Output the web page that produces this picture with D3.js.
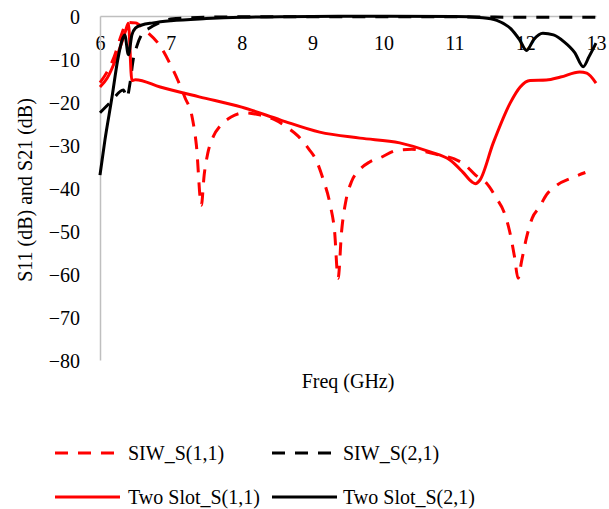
<!DOCTYPE html>
<html>
<head>
<meta charset="utf-8">
<script src="https://cdn.jsdelivr.net/npm/d3@7"></script>
<style>
  body { margin: 0; background: #fff; }
  svg { display: block; }
  svg text { font-family: "Times New Roman", "Liberation Serif", Tinos, "DejaVu Serif", serif; }
</style>
</head>
<body>
<div id="chart"></div>
<script>
// ---- Data ----
const xTicks = [6, 7, 8, 9, 10, 11, 12, 13];
const yTicks = [0, -10, -20, -30, -40, -50, -60, -70, -80];

const siwS11Freq = [6.0, 6.1, 6.2, 6.3, 6.38, 6.5, 6.65, 6.85, 7.0, 7.1, 7.2, 7.3, 7.36, 7.43, 7.47, 7.52, 7.6, 7.7, 7.85, 8.05, 8.25, 8.45, 8.65, 8.8, 8.95, 9.05, 9.15, 9.25, 9.31, 9.36, 9.41, 9.47, 9.55, 9.65, 9.8, 9.95, 10.2, 10.4, 10.6, 10.8, 11.0, 11.15, 11.3, 11.45, 11.6, 11.7, 11.78, 11.85, 11.9, 11.95, 12.02, 12.1, 12.2, 12.3, 12.45, 12.65, 12.85];
const siwS11Db = [-15.5, -13, -9.5, -4.5, -1.5, -1.6, -3.5, -7, -11.5, -15, -19, -23.5, -30, -44, -37, -32, -28, -25.5, -23.5, -22.5, -23, -24, -26, -28, -31, -33.5, -38, -44, -50, -61, -50, -43, -38.5, -36, -34, -33, -31.2, -31, -31.6, -32.4, -33.2, -34.6, -37, -38.8, -42.5, -45.5, -50, -56, -61, -57, -51.5, -47, -44.5, -41.6, -39.3, -37.7, -36.4];

const siwS21Freq = [6.0, 6.15, 6.33, 6.38, 6.42, 6.47, 6.52, 6.6, 6.7, 6.85, 7.0, 7.5, 8, 9, 10, 11, 12, 13];
const siwS21Db = [-22.5, -20, -17.2, -19, -16, -10, -7, -4, -2.8, -1.5, -0.7, -0.3, -0.2, -0.2, -0.2, -0.2, -0.3, -0.3];

const slotS11Freq = [6.0, 6.1, 6.2, 6.3, 6.36, 6.40, 6.45, 6.5, 6.85, 7.4, 8.0, 8.55, 9.1, 9.67, 10.23, 10.66, 10.94, 11.12, 11.25, 11.3, 11.36, 11.55, 11.79, 11.93, 12.07, 12.3, 12.5, 12.77, 12.87, 13.0];
const slotS11Db = [-16.5, -14.5, -11, -6.5, -3.5, -1.7, -15, -14.8, -16.5, -18.8, -21.2, -24.2, -27, -28.4, -29.5, -31.6, -33.5, -36.3, -38.6, -39, -38.2, -29.5, -20.2, -16.5, -15, -14.9, -14.2, -13, -13.3, -15.6];

const slotS21Freq = [6.0, 6.07, 6.17, 6.25, 6.32, 6.35, 6.4, 6.45, 6.5, 6.59, 6.75, 7.0, 7.5, 8.0, 9.0, 10.0, 11.0, 11.4, 11.6, 11.8, 11.92, 12.02, 12.12, 12.25, 12.4, 12.55, 12.7, 12.82, 12.9, 13.0];
const slotS21Db = [-37, -28.8, -18.8, -10.2, -5.2, -4.4, -9, -4.4, -2.8, -2.1, -1.6, -1.1, -0.6, -0.3, -0.1, -0.05, -0.1, -0.4, -1, -3, -5.5, -8, -5.5, -4, -4.4, -6, -8.5, -11.8, -9.5, -6.3];

const seriesNames = ['SIW_S(1,1)', 'SIW_S(2,1)', 'Two Slot_S(1,1)', 'Two Slot_S(2,1)'];

// ---- Layout ----
const W = 609, H = 509;
const x = d3.scaleLinear().domain([6, 13]).range([100, 596]);
const y = d3.scaleLinear().domain([-80, 0]).range([360, 16]);

const series = [
  { name: seriesNames[0], f: siwS11Freq, v: siwS11Db, color: '#ff0000', dash: '13,10' },
  { name: seriesNames[1], f: siwS21Freq, v: siwS21Db, color: '#000000', dash: '13,10' },
  { name: seriesNames[2], f: slotS11Freq, v: slotS11Db, color: '#ff0000', dash: null },
  { name: seriesNames[3], f: slotS21Freq, v: slotS21Db, color: '#000000', dash: null }
];

const svg = d3.select('#chart').append('svg')
  .attr('width', W)
  .attr('height', H);

// Axes (gray lines, no ticks)
const xAxis = svg.append('g')
  .attr('transform', `translate(0,${y(0)})`)
  .call(d3.axisBottom(x).tickValues(xTicks).tickSize(0).tickPadding(24).tickFormat(d3.format('d')));
const yAxis = svg.append('g')
  .attr('transform', `translate(${x(6)},0)`)
  .call(d3.axisLeft(y).tickValues(yTicks).tickSize(0).tickPadding(20).tickFormat(d3.format('d')));

[xAxis, yAxis].forEach(a => {
  a.attr('font-family', null);
  a.select('.domain').attr('stroke', '#bfbfbf').attr('stroke-width', 1.5);
  a.selectAll('text')
    .attr('font-size', '20px')
    .attr('fill', '#000');
});
xAxis.selectAll('text').attr('dy', '0.5em');
yAxis.selectAll('text').attr('dy', '0.35em');

// Axis titles
svg.append('text')
  .attr('x', 348).attr('y', 388)
  .attr('text-anchor', 'middle')
  .attr('font-size', '20px')
  .text('Freq (GHz)');

svg.append('text')
  .attr('transform', `translate(32,190) rotate(-90)`)
  .attr('text-anchor', 'middle')
  .attr('font-size', '20px')
  .text('S11 (dB) and S21 (dB)');

// Lines
const line = d3.line()
  .x(d => x(d[0]))
  .y(d => y(d[1]))
  .curve(d3.curveMonotoneX);

svg.append('g')
  .selectAll('path')
  .data(series)
  .join('path')
  .attr('d', s => line(s.f.map((f, i) => [f, s.v[i]])))
  .attr('fill', 'none')
  .attr('stroke', s => s.color)
  .attr('stroke-width', 3)
  .attr('stroke-dasharray', s => s.dash)
  .attr('stroke-linejoin', 'round');

// Legend
const legendPos = [
  { lx: 55, tx: 128, ty: 453 },
  { lx: 272, tx: 343, ty: 453 },
  { lx: 55, tx: 128, ty: 497 },
  { lx: 272, tx: 343, ty: 497 }
];

const legend = svg.append('g')
  .selectAll('g')
  .data(series)
  .join('g');

legend.append('line')
  .attr('x1', (d, i) => legendPos[i].lx)
  .attr('x2', (d, i) => legendPos[i].lx + 65)
  .attr('y1', (d, i) => legendPos[i].ty)
  .attr('y2', (d, i) => legendPos[i].ty)
  .attr('stroke', d => d.color)
  .attr('stroke-width', 3)
  .attr('stroke-dasharray', d => d.dash);

legend.append('text')
  .attr('x', (d, i) => legendPos[i].tx)
  .attr('y', (d, i) => legendPos[i].ty)
  .attr('dy', '0.35em')
  .attr('font-size', '20px')
  .text(d => d.name);
</script>
</body>
</html>
